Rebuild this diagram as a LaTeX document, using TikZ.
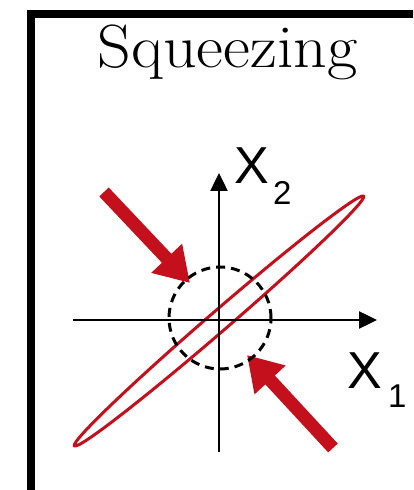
\documentclass[tikz,border=0pt]{standalone}
\usepackage{fontspec}
\newfontfamily\lsans{Liberation Sans}
\usetikzlibrary{arrows.meta}
\definecolor{sqred}{RGB}{196,16,28}
\tikzset{
  axis/.style={line width=2.5pt, -{Triangle[length=18pt,width=17pt]}},
  bigarrow/.style={sqred, line width=13pt, -{Triangle[length=34pt,width=40pt]}},
  lbl/.style={inner sep=0pt, anchor=base west, font=\lsans\fontsize{52}{52}\selectfont},
  sublbl/.style={inner sep=0pt, anchor=base west, font=\lsans\fontsize{33}{33}\selectfont},
}
\begin{document}
\begin{tikzpicture}[x=1pt,y=1pt]
\useasboundingbox (0,0) rectangle (413,490);
\clip (0,0) rectangle (413,490);
\fill[white] (0,0) rectangle (413,490);
% frame
\draw[line width=8pt] (31,-20) -- (31,476) -- (440,476);
% title
\node[inner sep=0pt, anchor=base, font=\fontsize{61}{61}\selectfont] (title) at (227.5,422) {\scalebox{1.08}[1]{Squeezing}};
% ellipse
\coordinate (o) at (219,169);
\draw[sqred, line width=3pt, rotate around={40.8:(o)}] (o) ellipse [x radius=191, y radius=10];
% axes
\coordinate (xs) at (73,170);
\coordinate (xe) at (377,170);
\coordinate (ys) at (219,38);
\coordinate (ye) at (219,317);
\draw[axis] (xs) -- (xe);
\draw[axis] (ys) -- (ye);
% labels
\node[lbl] (x2) at (234,306) {X};
\node[sublbl] (x2s) at (273,285) {2};
\node[lbl] (x1) at (347,101) {X};
\node[sublbl] (x1s) at (388,82) {1};
% arrows
\coordinate (a1s) at (104,298);
\coordinate (a1e) at (190,207);
\coordinate (a2s) at (333,42);
\coordinate (a2e) at (247,135);
\draw[bigarrow] (a1s) -- (a1e);
\draw[bigarrow] (a2s) -- (a2e);
% dashed circle
\draw[line width=3pt, dash pattern=on 9pt off 6pt] (220,172) circle [radius=51];
\end{tikzpicture}
\end{document}
